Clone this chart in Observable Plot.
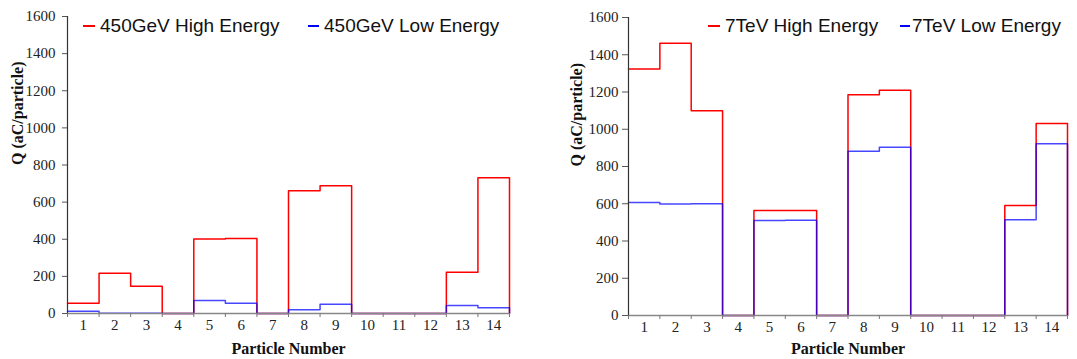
<!DOCTYPE html>
<html>
<head>
<meta charset="utf-8">
<script src="https://cdn.jsdelivr.net/npm/d3@7"></script>
<script src="https://cdn.jsdelivr.net/npm/@observablehq/plot@0.6"></script>
<style>
  html, body { margin: 0; padding: 0; background: #fff; }
  #wrap { display: flex; width: 1077px; height: 359px; }
  .panel { position: relative; }
  .legend { position: absolute; font-family: "Liberation Sans", Arial, sans-serif; font-size: 19px; color: #111; white-space: nowrap; line-height: 1; }
  .legend .sw { position: absolute; display: block; height: 2px; }
</style>
</head>
<body>
<div id="wrap"></div>
<script>
// ---- data ----
const particles = [1, 2, 3, 4, 5, 6, 7, 8, 9, 10, 11, 12, 13, 14];
const high450 = [55, 217, 147, 0, 402, 404, 0, 661, 688, 0, 0, 0, 222, 731];
const low450  = [12, 2, 2, 0, 70, 55, 0, 20, 50, 0, 0, 0, 43, 31];
const high7   = [1324, 1462, 1099, 0, 564, 564, 0, 1185, 1210, 0, 0, 0, 591, 1031];
const low7    = [607, 598, 600, 0, 510, 512, 0, 882, 904, 0, 0, 0, 514, 922];
const yTicks  = [0, 200, 400, 600, 800, 1000, 1200, 1400, 1600];
const seriesNames = {
  left:  ["450GeV High Energy", "450GeV Low Energy"],
  right: ["7TeV High Energy", "7TeV Low Energy"]
};
const xLabel = "Particle Number";
const yLabel = "Q (aC/particle)";

// step outline: each particle occupies [p-0.5, p+0.5], closing down to 0 at the end
function stepPoints(vals) {
  const pts = [];
  particles.forEach((p, i) => {
    pts.push({x: p - 0.5, y: vals[i]});
    pts.push({x: p + 0.5, y: vals[i]});
  });
  pts.push({x: particles[particles.length - 1] + 0.5, y: 0});
  return pts;
}

const serif = "'Liberation Serif', 'Times New Roman', serif";

function makeChart(cfg) {
  const boundaries = [particles[0] - 0.5, ...particles.map(p => p + 0.5)];
  return Plot.plot({
    width: cfg.width,
    height: 359,
    marginLeft: cfg.ml,
    marginRight: cfg.mr,
    marginTop: cfg.mt,
    marginBottom: cfg.mb,
    x: {domain: [0.5, 14.5]},
    y: {domain: [0, 1600]},
    style: {fontFamily: serif, fontSize: "15px", color: "#222", background: "white", overflow: "visible"},
    marks: [
      Plot.line(stepPoints(cfg.high), {x: "x", y: "y", stroke: "#ff0000", strokeWidth: 1.5}),
      Plot.line(stepPoints(cfg.low), {x: "x", y: "y", stroke: "#0000ff", strokeWidth: 1.5, strokeOpacity: 0.72}),
      Plot.ruleY([0], {stroke: "#888", strokeWidth: 1.5}),
      Plot.ruleX([0.5], {stroke: "#333", strokeWidth: 1.2}),
      Plot.axisY({ticks: yTicks, tickSize: cfg.ytickSize, tickPadding: cfg.ytickPad, tickFormat: d => String(d), label: null, stroke: "#555"}),
      Plot.axisX({ticks: particles, tickSize: 0, tickPadding: cfg.xpad, tickFormat: d => String(d), label: null}),
      Plot.axisX({ticks: boundaries, tickSize: 4, tickFormat: () => "", label: null, stroke: "#777"}),
      Plot.text([xLabel], {frameAnchor: "bottom", dy: cfg.xLabelDy, lineAnchor: "middle", fontWeight: "bold", fontSize: 16, fill: "#111"}),
      Plot.text([yLabel], {frameAnchor: "left", dx: -cfg.yLabelOff, rotate: -90, lineAnchor: "middle", fontWeight: "bold", fontSize: 16, fill: "#111"})
    ]
  });
}

function addPanel(cfg, names, legendPos) {
  const panel = document.createElement("div");
  panel.className = "panel";
  panel.style.width = cfg.width + "px";
  panel.appendChild(makeChart(cfg));
  const colors = ["#ff0000", "#0000ff"];
  names.forEach((name, i) => {
    const lp = legendPos[i];
    const d = document.createElement("div");
    d.className = "legend";
    d.style.left = lp.text + "px";
    d.style.top = "16px";
    d.textContent = name;
    const sw = document.createElement("span");
    sw.className = "sw";
    sw.style.background = colors[i];
    sw.style.left = (lp.line - lp.text) + "px";
    sw.style.width = lp.lineW + "px";
    sw.style.top = "9px";
    d.appendChild(sw);
    panel.appendChild(d);
  });
  document.getElementById("wrap").appendChild(panel);
}

addPanel(
  {width: 540, ml: 67, mr: 31, mt: 16, mb: 46, high: high450, low: low450,
   ytickSize: 5, ytickPad: 7, xpad: 6, xLabelDy: 35, yLabelOff: 50},
  seriesNames.left,
  [{line: 83, lineW: 12, text: 100}, {line: 308, lineW: 11, text: 324}]
);
addPanel(
  {width: 537, ml: 88, mr: 10, mt: 17, mb: 44, high: high7, low: low7,
   ytickSize: 6, ytickPad: 4, xpad: 6, xLabelDy: 33, yLabelOff: 52},
  seriesNames.right,
  [{line: 168, lineW: 12, text: 185}, {line: 360, lineW: 10, text: 372}]
);
</script>
</body>
</html>
